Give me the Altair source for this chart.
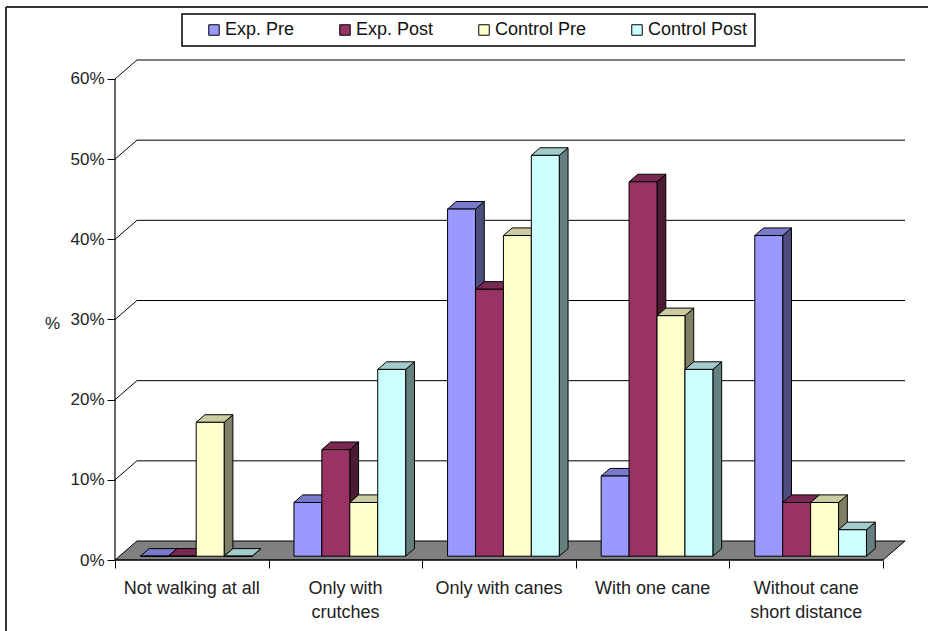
import altair as alt
import pandas as pd

# Walking ability per group (% of patients)
categories = ["Not walking at all", "Only with\ncrutches", "Only with canes",
              "With one cane", "Without cane\nshort distance"]
series = ["Exp. Pre", "Exp. Post", "Control Pre", "Control Post"]
exp_pre = [0.0, 6.7, 43.3, 10.0, 40.0]
exp_post = [0.0, 13.3, 33.3, 46.7, 6.7]
control_pre = [16.7, 6.7, 40.0, 30.0, 6.7]
control_post = [0.0, 23.3, 50.0, 23.3, 3.3]
y_ticks = [0, 10, 20, 30, 40, 50, 60]

# Face colours: front, top (lit), side (shaded)
front_colors = ["#9999FF", "#993366", "#FFFFCC", "#CCFFFF"]
top_colors = ["#7A7ACC", "#7A2952", "#CCCCA3", "#A3CCCC"]
side_colors = ["#4D4D80", "#4D1A33", "#808066", "#668080"]

FONT = "Liberation Sans"
TEXT_COLOR = "#222222"

# Pseudo-3D geometry in data units
N_CAT = len(categories)
DX = 0.143          # depth along x (category units)
DY = 2.37           # depth along y (percent units)
F1, F2 = 0.2, 0.6   # front / back plane of the bars inside the depth
GAP = 1.5
BAR_W = 1.0 / (len(series) + GAP)
X_MAX = N_CAT + DX
Y_MAX = 62.37

values = dict(zip(series, [exp_pre, exp_post, control_pre, control_post]))

fronts, sides, tops = [], [], []
for ci in range(N_CAT):
    for si, s in enumerate(series):
        v = values[s][ci]
        xl = ci + (1 - len(series) * BAR_W) / 2 + si * BAR_W
        xr = xl + BAR_W
        bid = f"{ci}-{si}"
        ox1, oy1 = F1 * DX, F1 * DY
        ox2, oy2 = F2 * DX, F2 * DY
        fronts.append(dict(series=s, x=xl + ox1, x2=xr + ox1, y=oy1, y2=v + oy1))
        sides.append(dict(bar=bid, series=s, x=xr + ox1, y=oy1, y2=v + oy1))
        sides.append(dict(bar=bid, series=s, x=xr + ox2, y=oy2, y2=v + oy2))
        tops.append(dict(bar=bid, series=s, y=v + oy1, x=xl + ox1, x2=xr + ox1))
        tops.append(dict(bar=bid, series=s, y=v + oy2, x=xl + ox2, x2=xr + ox2))

grid_rows = []
for t in y_ticks[1:]:
    grid_rows += [dict(g=t, o=0, x=0, y=t), dict(g=t, o=1, x=DX, y=t + DY),
                  dict(g=t, o=2, x=X_MAX, y=t + DY)]

floor = pd.DataFrame([dict(y=0, x=0, x2=N_CAT), dict(y=DY, x=DX, x2=X_MAX)])
labels = pd.DataFrame(dict(x=[i + 0.5 for i in range(N_CAT)], y=[0] * N_CAT, label=categories))

x_scale = alt.Scale(domain=[0, X_MAX], nice=False, zero=False)
y_scale = alt.Scale(domain=[0, Y_MAX], nice=False)
x_axis = alt.Axis(values=list(range(N_CAT + 1)), labels=False, domain=False, grid=False,
                  tickSize=8, tickColor="black", title=None)
y_axis = alt.Axis(values=y_ticks, labelExpr="datum.value + '%'", domain=False, grid=False,
                  tickSize=8, tickColor="black", labelPadding=3, labelFont=FONT,
                  labelFontSize=17, labelColor=TEXT_COLOR, title="%", titleAngle=0,
                  titleX=-63, titleY=263, titleAlign="center", titleBaseline="middle",
                  titleFont=FONT, titleFontSize=17, titleFontWeight="normal",
                  titleColor=TEXT_COLOR)


def X(field="x"):
    return alt.X(f"{field}:Q", scale=x_scale, axis=x_axis)


def Y(field="y"):
    return alt.Y(f"{field}:Q", scale=y_scale, axis=y_axis)


walls = alt.Chart(pd.DataFrame(grid_rows)).mark_line(color="black", strokeWidth=1).encode(
    x=X(), y=Y(), detail="g:N", order="o:Q")

floor_layer = alt.Chart(floor).mark_area(
    orient="horizontal", fill="#808080", stroke="black", strokeWidth=1).encode(
    y=Y(), x=X(), x2="x2:Q")

side_layer = alt.Chart(pd.DataFrame(sides)).mark_area(
    orient="vertical", stroke="black", strokeWidth=1, opacity=1).encode(
    x=X(), y=Y(), y2="y2:Q", detail="bar:N",
    fill=alt.Fill("series:N", scale=alt.Scale(domain=series, range=side_colors), legend=None))

top_layer = alt.Chart(pd.DataFrame(tops)).mark_area(
    orient="horizontal", stroke="black", strokeWidth=1, opacity=1).encode(
    y=Y(), x=X(), x2="x2:Q", detail="bar:N",
    fill=alt.Fill("series:N", scale=alt.Scale(domain=series, range=top_colors), legend=None))

front_layer = alt.Chart(pd.DataFrame(fronts)).mark_rect(
    stroke="black", strokeWidth=1, opacity=1).encode(
    x=X(), x2="x2:Q", y=Y(), y2="y2:Q",
    fill=alt.Fill("series:N", scale=alt.Scale(domain=series, range=front_colors),
                  sort=series,
                  legend=alt.Legend(orient="none", legendX=67, legendY=-46,
                                    direction="horizontal", title=None,
                                    symbolType="square", symbolSize=110,
                                    symbolStrokeColor="black", symbolStrokeWidth=1,
                                    symbolOffset=16,
                                    labelFont=FONT, labelFontSize=18,
                                    labelColor="#111111", labelOffset=2,
                                    columnPadding=25, padding=7,
                                    strokeColor="black", fillColor="white")))

axis_lines = alt.Chart(pd.DataFrame([dict(x=0, x2=N_CAT, y=0, y2=0),
                                     dict(x=0, x2=0, y=0, y2=60)])).mark_rule(
    color="black", strokeWidth=1.2).encode(x=X(), x2="x2:Q", y=Y(), y2="y2:Q")

cat_labels = alt.Chart(labels).mark_text(
    baseline="top", align="center", dy=20, lineBreak="\n", lineHeight=24,
    font=FONT, fontSize=18, color=TEXT_COLOR).encode(x=X(), y=Y(), text="label:N")

frame = alt.Chart(pd.DataFrame([dict(a=0)])).mark_rule(color="#333333", strokeWidth=2)
frame_top = frame.encode(x=alt.value(-109), x2=alt.value(813), y=alt.value(-53))
frame_left = frame.encode(x=alt.value(-109), y=alt.value(-53), y2=alt.value(571))

chart = alt.layer(
    walls, floor_layer, side_layer, top_layer, front_layer, axis_lines, cat_labels,
    frame_top, frame_left
).resolve_scale(fill="independent").properties(
    width=790, height=500,
    autosize=alt.AutoSizeParams(type="none"),
    padding={"left": 115, "top": 60, "right": 23, "bottom": 71},
    background="white",
).configure_view(stroke=None).configure_legend(strokeWidth=1.5)

chart.save("out.html", embed_options={"renderer": "svg", "actions": False})
